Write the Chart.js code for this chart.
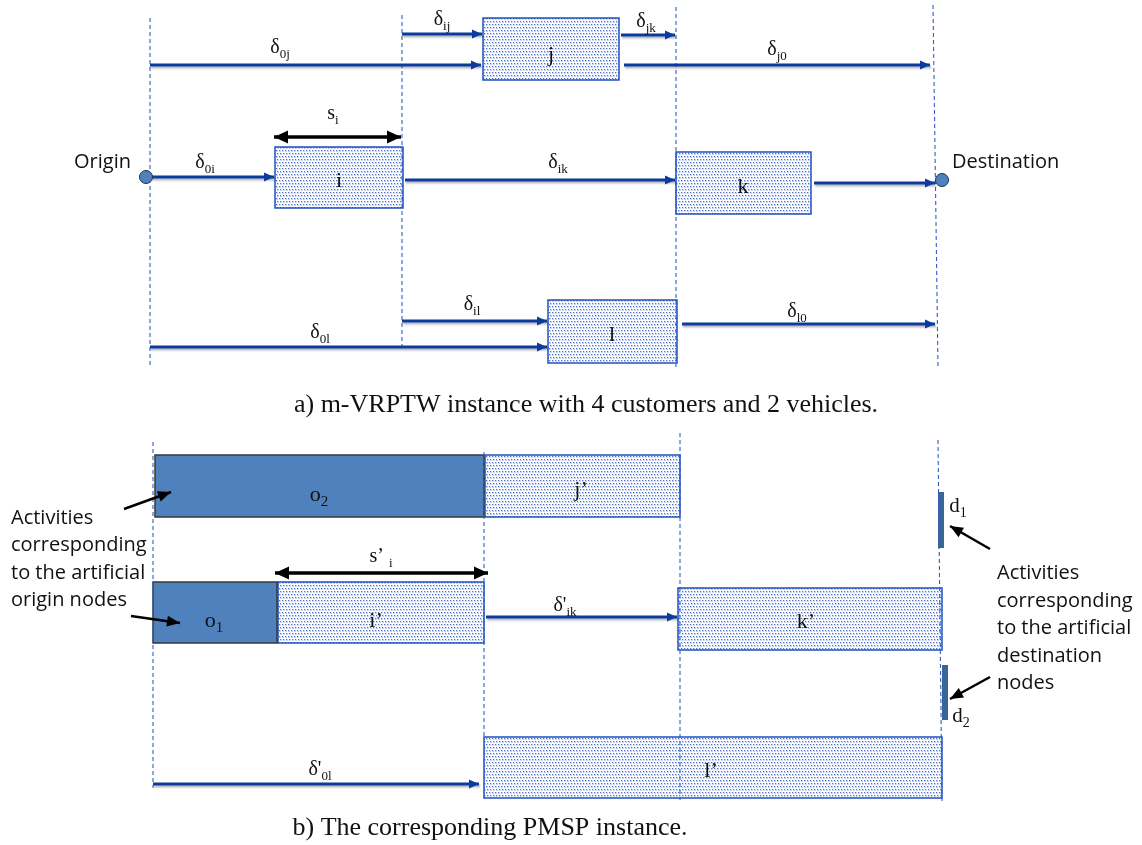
<!DOCTYPE html>
<html><head><meta charset="utf-8">
<script src="https://cdn.jsdelivr.net/npm/chart.js@4.4.0/dist/chart.umd.min.js"></script>
<style>html,body{margin:0;padding:0;background:#fff;overflow:hidden}canvas{display:block}</style>
</head><body>
<canvas id="c" width="1142" height="845"></canvas>
<script>
// ---------- DATA (time axis = x, row axis = y) ----------
// dashed time markers: [topTime, topRow, bottomTime, bottomRow]
const markersA = [[150,18,150,365],[402,15,402,347],[676,7,676,367],[933,5,938,367]];
const markersB = [[153,442,153,788],[484,452,484,736],[680,433,680,800],[938,440,942,802]];

// customer activities: [name, sub, start, end, rowTop, rowBottom, labelTime, labelRow]
const customerTasks = [
  ['j','',483,619,18,80,551,61],
  ['i','',275,403,147,208,339,187],
  ['k','',676,811,152,214,743,193],
  ['l','',548,677,300,363,612,341],
  ['j\u2019','',485,680,455,517,581,496],
  ['i\u2019','',278,484,582,643,376,627],
  ['k\u2019','',678,942,588,650,806,628],
  ['l\u2019','',484,942,737,798,711,777]
];
// artificial origin activities
const originTasks = [
  ['o','2',155,484,455,517,319,501],
  ['o','1',153,277,582,643,214,627]
];
// artificial destination activities
const destTasks = [
  ['d','1',938,944,492,548,958,512],
  ['d','2',942,948,665,720,961,722]
];
// travel times: [symbol, sub, from, to, row, labelTime, labelRow]
const travels = [
  ['\u03b4','0j',150,481,65,280,53],
  ['\u03b4','ij',402,482,34,442,25],
  ['\u03b4','jk',621,675,35,646,27],
  ['\u03b4','j0',624,930,65,777,55],
  ['\u03b4','0i',150,274,177,205,168],
  ['\u03b4','ik',405,675,180,558,168],
  ['','',814,935,183,0,0],
  ['\u03b4','il',402,547,321,472,310],
  ['\u03b4','0l',150,547,347,320,338],
  ['\u03b4','l0',682,935,324,797,317],
  ["\u03b4'",'ik',486,677,617,565,611],
  ["\u03b4'",'0l',153,479,784,320,775]
];
// service times (double arrows)
const services = [
  ['s','i',274,401,137,333,119],
  ['s\u2019 ','i',275,488,573,381,562]
];
// depots: [name, time, row]
const depots = [['Origin',146,177],['Destination',942,180]];
// callout pointers: [fromTime, fromRow, toTime, toRow]
const pointers = [[124,509,171,492],[131,616,180,623],[990,549,950,526],[990,677,950,699]];
const notesLeft = ['Activities','corresponding','to the artificial','origin nodes'];
const notesRight = ['Activities','corresponding','to the artificial','destination','nodes'];
const captions = ['a) m-VRPTW instance with 4 customers and 2 vehicles.','b) The corresponding PMSP instance.'];

// ---------- STYLE / LAYOUT ----------
const BLUE_ARROW = '#0c3b9f';
const DASH = '#2f5fc4';
const SERIF = '"Liberation Serif", "Times New Roman", serif';
const SANS = '"Open Sans", "Noto Sans", sans-serif';

const datasets = [];
[...markersA, ...markersB].forEach(m => datasets.push({
  data:[{x:m[0],y:m[1]},{x:m[2],y:m[3]}], showLine:true, pointRadius:0,
  borderColor:DASH, borderWidth:1.1, borderDash:[4,3], order:3
}));
travels.forEach(t => datasets.push({
  data:[{x:t[2],y:t[4]},{x:t[3],y:t[4]}], showLine:true, pointRadius:0,
  borderColor:BLUE_ARROW, borderWidth:3, borderCapStyle:'butt', order:1, shadow:true, head:'end'
}));
services.forEach(s => datasets.push({
  data:[{x:s[2],y:s[4]},{x:s[3],y:s[4]}], showLine:true, pointRadius:0,
  borderColor:'#000', borderWidth:3.5, borderCapStyle:'butt', order:1, head:'both'
}));
pointers.forEach(p => datasets.push({
  data:[{x:p[0],y:p[1]},{x:p[2],y:p[3]}], showLine:true, pointRadius:0,
  borderColor:'#000', borderWidth:2.5, borderCapStyle:'butt', order:1, head:'end', small:true
}));
datasets.push({
  data: depots.map(d => ({x:d[1], y:d[2]})), pointRadius:6.5, pointHoverRadius:6.5,
  backgroundColor:'#4f81bd', borderColor:'#1f3257', borderWidth:1, order:0
});

let dotPattern = null;
function getPattern(ctx){
  if (dotPattern) return dotPattern;
  const c = document.createElement('canvas'); c.width = 6; c.height = 6;
  const p = c.getContext('2d');
  p.fillStyle = '#fff'; p.fillRect(0,0,6,6);
  [[0,0],[3,0],[1,3],[4,3]].forEach(([x,y]) => { p.fillStyle = '#c9d5f0'; p.fillRect(x, y, 2, 2); });
  p.fillStyle = '#4a70c8';
  p.fillRect(0,0,1,1); p.fillRect(3,0,1,1); p.fillRect(1,3,1,1); p.fillRect(4,3,1,1);
  dotPattern = ctx.createPattern(c,'repeat');
  return dotPattern;
}

function subText(ctx, main, sub, cx, by, ms, ss, drop){
  ctx.textAlign = 'left'; ctx.textBaseline = 'alphabetic'; ctx.fillStyle = '#111';
  ctx.font = ms + 'px ' + SERIF; const w1 = ctx.measureText(main).width;
  ctx.font = ss + 'px ' + SERIF; const w2 = sub ? ctx.measureText(sub).width : 0;
  const x = cx - (w1 + w2) / 2;
  ctx.font = ms + 'px ' + SERIF; ctx.fillText(main, x, by);
  if (sub){ ctx.font = ss + 'px ' + SERIF; ctx.fillText(sub, x + w1, by + drop); }
}

function head(ctx, x, y, ang, len, hw, color){
  ctx.save(); ctx.translate(x,y); ctx.rotate(ang);
  ctx.beginPath(); ctx.moveTo(0,0); ctx.lineTo(-len,-hw); ctx.lineTo(-len,hw); ctx.closePath();
  ctx.fillStyle = color; ctx.fill(); ctx.restore();
}

const diagram = {
  id:'diagram',
  beforeDatasetsDraw(chart){
    const ctx = chart.ctx, X = chart.scales.x, Y = chart.scales.y;
    const rect = (t) => [X.getPixelForValue(t[2]), Y.getPixelForValue(t[4]),
      X.getPixelForValue(t[3]) - X.getPixelForValue(t[2]), Y.getPixelForValue(t[5]) - Y.getPixelForValue(t[4])];
    ctx.save();
    customerTasks.forEach(t => {
      const [x,y,w,h] = rect(t);
      ctx.fillStyle = getPattern(ctx); ctx.fillRect(x,y,w,h);
      ctx.strokeStyle = '#1f50c0'; ctx.lineWidth = 1.5; ctx.strokeRect(x,y,w,h);
    });
    originTasks.forEach(t => {
      const [x,y,w,h] = rect(t);
      ctx.fillStyle = '#4f81bd'; ctx.fillRect(x,y,w,h);
      ctx.strokeStyle = '#383838'; ctx.lineWidth = 1.5; ctx.strokeRect(x,y,w,h);
    });
    destTasks.forEach(t => {
      const [x,y,w,h] = rect(t);
      ctx.fillStyle = '#3b6498'; ctx.fillRect(x,y,w,h);
    });
    ctx.restore();
  },
  beforeDatasetDraw(chart, args){
    const ds = chart.data.datasets[args.index];
    chart.ctx.save();
    if (ds.shadow){
      chart.ctx.shadowColor = 'rgba(0,0,0,0.28)'; chart.ctx.shadowBlur = 2; chart.ctx.shadowOffsetY = 2; chart.ctx.shadowOffsetX = 1;
    }
  },
  afterDatasetDraw(chart){ chart.ctx.restore(); },
  afterDatasetsDraw(chart){
    const ctx = chart.ctx, X = chart.scales.x, Y = chart.scales.y;
    ctx.save();
    chart.data.datasets.forEach(ds => {
      if (!ds.head) return;
      const a = ds.data[0], b = ds.data[1];
      const ax = X.getPixelForValue(a.x), ay = Y.getPixelForValue(a.y);
      const bx = X.getPixelForValue(b.x), by = Y.getPixelForValue(b.y);
      const ang = Math.atan2(by-ay, bx-ax);
      const big = ds.head === 'both';
      const len = big ? 14 : (ds.small ? 13 : 10), hw = big ? 6.5 : (ds.small ? 5.5 : 4.5);
      head(ctx, bx, by, ang, len, hw, ds.borderColor);
      if (ds.head === 'both') head(ctx, ax, ay, ang + Math.PI, len, hw, ds.borderColor);
    });
    customerTasks.forEach(t => subText(ctx, t[0], t[1], X.getPixelForValue(t[6]), Y.getPixelForValue(t[7]), 22, 14, 5));
    originTasks.forEach(t => subText(ctx, t[0], t[1], X.getPixelForValue(t[6]), Y.getPixelForValue(t[7]), 22, 15, 5));
    destTasks.forEach(t => subText(ctx, t[0], t[1], X.getPixelForValue(t[6]), Y.getPixelForValue(t[7]), 21, 14, 5));
    travels.forEach(t => { if (t[0]) subText(ctx, t[0], t[1], X.getPixelForValue(t[5]), Y.getPixelForValue(t[6]), 20, 13, 5); });
    services.forEach(s => subText(ctx, s[0], s[1], X.getPixelForValue(s[5]), Y.getPixelForValue(s[6]), 20, 13, 5));
    ctx.fillStyle = '#111'; ctx.font = '20px ' + SANS; ctx.textBaseline = 'alphabetic';
    ctx.textAlign = 'right'; ctx.fillText(depots[0][0], X.getPixelForValue(131), Y.getPixelForValue(168));
    ctx.textAlign = 'left'; ctx.fillText(depots[1][0], X.getPixelForValue(952), Y.getPixelForValue(168));
    notesLeft.forEach((s,i) => ctx.fillText(s, X.getPixelForValue(11), Y.getPixelForValue(524 + i*27.3)));
    notesRight.forEach((s,i) => ctx.fillText(s, X.getPixelForValue(997), Y.getPixelForValue(579 + i*27.6)));
    ctx.font = '26px ' + SERIF; ctx.textAlign = 'center';
    ctx.fillText(captions[0], X.getPixelForValue(586), Y.getPixelForValue(412));
    ctx.fillText(captions[1], X.getPixelForValue(490), Y.getPixelForValue(835));
    ctx.restore();
  }
};

new Chart(document.getElementById('c'), {
  type:'scatter',
  data:{datasets},
  options:{
    responsive:false, animation:false, devicePixelRatio:1,
    layout:{padding:0, autoPadding:false},
    scales:{
      x:{type:'linear', min:0, max:1142, display:false},
      y:{type:'linear', min:0, max:845, reverse:true, display:false}
    },
    plugins:{legend:{display:false}, tooltip:{enabled:false}},
    events:[]
  },
  plugins:[diagram]
});
</script>
</body></html>
